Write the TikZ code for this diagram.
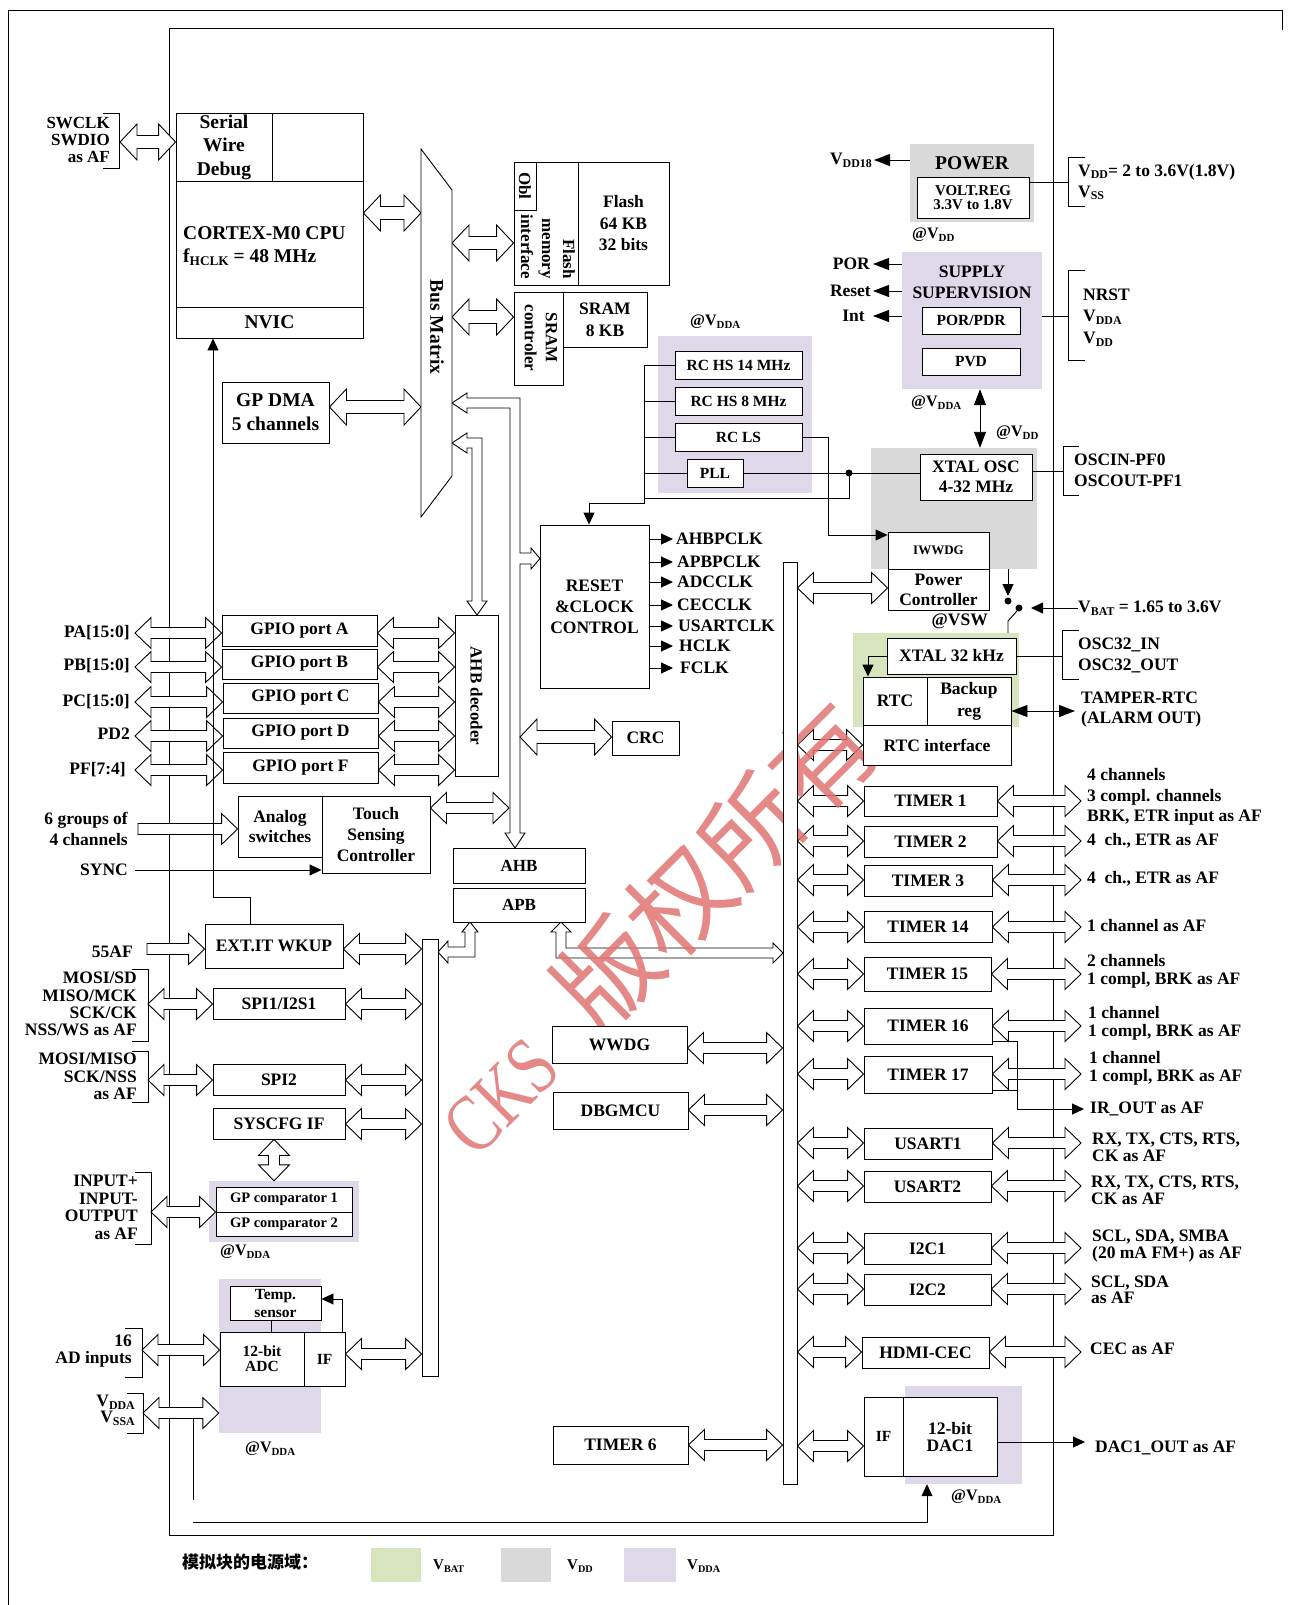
\documentclass[tikz,border=0pt]{standalone}
\usepackage{fontspec}
\usepackage{graphicx}
\setmainfont{Liberation Serif}
\newfontfamily\cjkfont{Noto Sans CJK SC}
\usetikzlibrary{arrows.meta,calc}
\pgfdeclarelayer{back}\pgfdeclarelayer{bg}\pgfdeclarelayer{wm}
\pgfsetlayers{back,bg,wm,main}
\definecolor{vdd}{RGB}{217,217,217}
\definecolor{vdda}{RGB}{222,216,232}
\definecolor{vbat}{RGB}{216,228,190}
\definecolor{wmred}{RGB}{225,115,115}
\newcommand\FS[2]{\fontsize{#1}{#2}\selectfont\bfseries}
\newcommand\sbs[1]{\raisebox{-0.35ex}{\scalebox{0.68}{#1}}}
\def\ahl{16}\def\ahh{15.5}\def\ahs{5.5}
% horizontal double-headed block arrow: x from #2 and #3, y (image px) #4
\newcommand\HArr[4][]{\begin{pgfonlayer}{bg}\filldraw[barrow,#1] let \p1=(#2),\p2=(#3) in
 (\x1,-#4pt) -- (\x1+\ahl pt,-#4pt+\ahh pt) -- (\x1+\ahl pt,-#4pt+\ahs pt) -- (\x2-\ahl pt,-#4pt+\ahs pt) -- (\x2-\ahl pt,-#4pt+\ahh pt) -- (\x2,-#4pt) -- (\x2-\ahl pt,-#4pt-\ahh pt) -- (\x2-\ahl pt,-#4pt-\ahs pt) -- (\x1+\ahl pt,-#4pt-\ahs pt) -- (\x1+\ahl pt,-#4pt-\ahh pt) -- cycle;\end{pgfonlayer}}
% single-headed (head at #3)
\newcommand\RArr[4][]{\begin{pgfonlayer}{bg}\filldraw[barrow,#1] let \p1=(#2),\p2=(#3) in
 (\x1,-#4pt+\ahs pt) -- (\x2-\ahl pt,-#4pt+\ahs pt) -- (\x2-\ahl pt,-#4pt+\ahh pt) -- (\x2,-#4pt) -- (\x2-\ahl pt,-#4pt-\ahh pt) -- (\x2-\ahl pt,-#4pt-\ahs pt) -- (\x1,-#4pt-\ahs pt) -- cycle;\end{pgfonlayer}}
% vertical double-headed block arrow, x (px) #4
\newcommand\VArr[4][]{\begin{pgfonlayer}{bg}\filldraw[barrow,#1] let \p1=(#2),\p2=(#3) in
 (#4pt,\y1) -- (#4pt+\ahh pt,\y1-\ahl pt) -- (#4pt+\ahs pt,\y1-\ahl pt) -- (#4pt+\ahs pt,\y2+\ahl pt) -- (#4pt+\ahh pt,\y2+\ahl pt) -- (#4pt,\y2) -- (#4pt-\ahh pt,\y2+\ahl pt) -- (#4pt-\ahs pt,\y2+\ahl pt) -- (#4pt-\ahs pt,\y1-\ahl pt) -- (#4pt-\ahh pt,\y1-\ahl pt) -- cycle;\end{pgfonlayer}}
\newcommand\bx[7][]{\node[box,minimum width={#5-#3},minimum height={#6-#4},#1] (#2) at ({(#3+#5)/2},{(#4+#6)/2}) {#7};}
\newcommand\rg[6]{\begin{pgfonlayer}{back}\node[fill=#1,draw=none,inner sep=0pt,minimum width={#5-#3},minimum height={#6-#4}] (#2) at ({(#3+#5)/2},{(#4+#6)/2}) {};\end{pgfonlayer}}
\tikzset{
 box/.style={draw,line width=0.9pt,fill=white,inner sep=1pt,align=center,font=\FS{17.5}{21}},
 barrow/.style={fill=white,draw=black,line width=0.9pt,line join=miter},
 bigarrow/.code={\def\ahl{17}\def\ahh{18}\def\ahs{6.5}},
 lbl/.style={inner sep=0pt,align=center,font=\FS{17.5}{21}},
 ln/.style={line width=0.9pt},
 arr/.style={line width=0.9pt,-{Triangle[length=12pt,width=11pt]}},
 arrL/.style={line width=0.9pt,-{Triangle[length=16pt,width=12pt]}},
 dbl/.style={line width=0.9pt,{Triangle[length=16pt,width=12pt]}-{Triangle[length=16pt,width=12pt]}},
}
\begin{document}
\begin{tikzpicture}[x=1pt,y=-1pt]
\useasboundingbox (0,0) rectangle (1290,1605);
% frames
\begin{pgfonlayer}{bg}
\draw[ln] (8,1605) -- (8,10) -- (1282,10) -- (1282,30);
\draw[ln] (169,28) rectangle (1053,1535);
\end{pgfonlayer}
% supply domain backgrounds
\rg{vdd}{pwrbg}{910}{144}{1034}{222}
\rg{vdda}{supbg}{902}{252}{1042}{389}
\rg{vdd}{xtbg}{871}{448}{1037}{569}
\rg{vbat}{rtcbg}{853}{633}{1019}{727}
\rg{vdda}{rcbg}{658}{336}{812}{493}
\rg{vdda}{cmpbg}{209}{1181}{359}{1242}
\rg{vdda}{adcbg}{219}{1279}{321}{1433}
\rg{vdda}{dacbg}{905}{1386}{1022}{1484}

% ---------- CPU ----------
\bx[font=\FS{19.5}{23.5}]{swd}{176}{113}{272}{181}{Serial\\Wire\\Debug}
\bx{swdr}{272}{113}{363}{181}{}
\bx{cpu}{176}{181}{363}{307}{}
\node[lbl,anchor=west,align=left,font=\FS{19.5}{23}] (cputxt) at (183,246) {CORTEX-M0 CPU\\f\sbs{HCLK} = 48 MHz};
\bx[font=\FS{19.5}{23}]{nvic}{176}{307}{363}{338}{NVIC}
\node[lbl,anchor=east,align=right,font=\FS{17}{17}] (swlab) at (110,140) {SWCLK\\SWDIO\\as AF};
\begin{pgfonlayer}{bg}
\draw[ln] (103,113) -- (119,113) -- (119,168) -- (103,168);
\end{pgfonlayer}
\coordinate (swbr) at (120,142);
\HArr[bigarrow]{swbr}{swd.west}{142}

% ---------- Bus matrix ----------
\draw[ln,fill=white] (421,149) -- (452,190) -- (452,476) -- (421,517) -- cycle;
\coordinate (bmL) at (421,300);
\coordinate (bmR) at (452,300);
\node[lbl,rotate=-90,font=\FS{19.5}{20}] (bmtxt) at (437,327) {Bus Matrix};
\HArr[bigarrow]{cpu.east}{bmL}{213}
\bx[font=\FS{19.5}{24}]{dma}{222}{382}{329}{443}{GP DMA\\5 channels}
\HArr[bigarrow]{dma.east}{bmL}{407}

% ---------- Flash / SRAM ----------
\bx{flif}{514}{162}{578}{285}{}
\bx{obl}{514}{162}{536}{210}{}
\node[lbl,rotate=-90,font=\FS{17}{20}] at (525,186) {Obl};
\node[lbl,rotate=-90,anchor=east,align=right,font=\FS{17}{21}] at (548,279) {Flash\\memory\\interface};
\bx[font=\FS{17.5}{21.5}]{flash}{578}{162}{669}{285}{Flash\\64 KB\\32 bits}
\bx{sramc}{514}{292}{563}{385}{}
\node[lbl,rotate=-90,font=\FS{17}{21}] at (541,338) {SRAM\\controler};
\bx[font=\FS{17.5}{22}]{sram}{563}{292}{647}{347}{SRAM\\8 KB}
\HArr[bigarrow]{bmR}{flif.west}{243}
\HArr[bigarrow]{bmR}{sramc.west}{317}

% ---------- L-shaped bus arrows ----------
\begin{pgfonlayer}{bg}
\filldraw[barrow] (452,403) -- (467,393) -- (467,398) -- (520,398) -- (520,553) -- (531,553) -- (531,548) -- (540,558.5) -- (531,569) -- (531,564) -- (520,564) -- (520,833) -- (525,833) -- (515,848) -- (505,833) -- (510,833) -- (510,408) -- (467,408) -- (467,413) -- cycle;
\filldraw[barrow] (452,443) -- (467,433) -- (467,438) -- (482,438) -- (482,601) -- (487,601) -- (477,615) -- (467,601) -- (472,601) -- (472,448) -- (467,448) -- (467,453) -- cycle;
\end{pgfonlayer}

% ---------- RC oscillators ----------
\node[lbl,anchor=west,font=\FS{16}{16}] at (690,322) {@V\sbs{DDA}};
\bx[font=\FS{15.5}{18}]{rc14}{675}{351}{802}{379}{RC HS 14 MHz}
\bx[font=\FS{15.5}{18}]{rc8}{675}{387}{802}{415}{RC HS 8 MHz}
\bx[font=\FS{15.5}{18}]{rcls}{675}{423}{802}{451}{RC LS}
\bx[font=\FS{15.5}{18}]{pll}{687}{459}{743}{487}{PLL}
\coordinate (rcb) at (644,365);

% ---------- RCC ----------
\bx{rcc}{540}{525}{649}{688}{RESET\\\&CLOCK\\CONTROL}
\node[lbl,anchor=west] (c1) at (676,539) {AHBPCLK};
\node[lbl,anchor=west] (c2) at (677,562) {APBPCLK};
\node[lbl,anchor=west] (c3) at (677,582) {ADCCLK};
\node[lbl,anchor=west] (c4) at (677,605) {CECCLK};
\node[lbl,anchor=west] (c5) at (678,626) {USARTCLK};
\node[lbl,anchor=west] (c6) at (679,646) {HCLK};
\node[lbl,anchor=west] (c7) at (680,668) {FCLK};

% ---------- POWER ----------
\node[lbl,font=\FS{19.5}{20}] (pwrtxt) at (972,163) {POWER};
\bx[font=\FS{15}{14}]{vreg}{917}{177}{1029}{218}{VOLT.REG\\3.3V to 1.8V}
\node[lbl,anchor=east] (vdd18) at (872,160) {V\sbs{DD18}};
\node[lbl,anchor=west,font=\FS{16}{16}] at (912,235) {@V\sbs{DD}};
\node[lbl,anchor=west,align=left] at (1078,182) {V\sbs{DD}= 2 to 3.6V(1.8V)\\V\sbs{SS}};

% ---------- Supply supervision ----------
\node[lbl] (suptxt) at (972,282.5) {SUPPLY\\SUPERVISION};
\bx[font=\FS{15.5}{18}]{porpdr}{922}{307}{1020}{334}{POR/PDR}
\bx[font=\FS{15.5}{18}]{pvd}{922}{348}{1020}{375}{PVD}
\node[lbl,anchor=east] (por) at (870,264) {POR};
\node[lbl,anchor=east] (rst) at (871,291) {Reset};
\node[lbl,anchor=east] (int) at (865,316) {Int};
\node[lbl,anchor=west,align=left,font=\FS{17.5}{21.5}] at (1083,317.5) {NRST\\V\sbs{DDA}\\V\sbs{DD}};
\node[lbl,anchor=west,font=\FS{16}{16}] at (911,403) {@V\sbs{DDA}};
\node[lbl,anchor=west,font=\FS{16}{16}] at (996,433) {@V\sbs{DD}};

% ---------- XTAL OSC ----------
\bx[font=\FS{17.5}{20}]{xtal}{920}{454}{1032}{500}{XTAL OSC\\4-32 MHz}
\node[lbl,anchor=west,align=left] at (1074,470.5) {OSCIN-PF0\\OSCOUT-PF1};

% ---------- IWWDG / power controller ----------
\bx[font=\FS{13}{14}]{iwwdg}{888}{532}{989}{569}{IWWDG}
\bx[font=\FS{17.5}{20}]{pwc}{888}{569}{989}{610}{Power\\Controller}
\node[lbl,anchor=east] (vswtxt) at (988,621) {@VSW};
\node[lbl,anchor=west] (vbat) at (1078,608) {V\sbs{BAT} = 1.65 to 3.6V};

% ---------- RTC ----------
\bx{xt32}{887}{638}{1016}{674}{XTAL 32 kHz}
\bx{rtc}{863}{677}{927}{725}{RTC}
\bx[font=\FS{17.5}{22}]{bkp}{927}{677}{1011}{725}{Backup\\reg}
\bx{rtcif}{863}{725}{1011}{765}{RTC interface}
\node[lbl,anchor=west,align=left] at (1078,655.5) {OSC32\_IN\\OSC32\_OUT};
\node[lbl,anchor=west,align=left,font=\FS{17.5}{20}] (tamper) at (1081,710) {TAMPER-RTC\\(ALARM OUT)};

% ---------- buses ----------
\bx{vsw}{783}{562}{797}{1484}{}
\bx{apbbar}{422}{939}{438}{1376}{}
\bx[font=\FS{17}{20}]{ahb}{453}{848}{585}{883}{AHB}
\bx[font=\FS{17}{20}]{apb}{453}{888}{585}{922}{APB}
\HArr{vsw.east}{pwc.west}{588}
\HArr{vsw.east}{rtcif.west}{745}

% ---------- CRC ----------
\bx{crc}{612}{721}{679}{755}{CRC}
\coordinate (ahbch) at (520,737);
\HArr[bigarrow]{ahbch}{crc.west}{737}

% ---------- GPIO ----------
\bx[font=\FS{17}{20}]{ahbdec}{455}{615}{498}{776}{}
\node[lbl,rotate=-90,font=\FS{17}{20}] at (476.5,696) {AHB decoder};
\bx{gpioA}{222}{615}{377}{646}{GPIO port A}
\bx{gpioB}{222}{649}{377}{679}{GPIO port B}
\bx{gpioC}{223}{683}{378}{713}{GPIO port C}
\bx{gpioD}{223}{718}{378}{748}{GPIO port D}
\bx{gpioF}{223}{752}{378}{783}{GPIO port F}
\node[lbl,anchor=east] (pa) at (130,633) {PA[15:0]};
\node[lbl,anchor=east] (pb) at (130,666) {PB[15:0]};
\node[lbl,anchor=east] (pc) at (130,702) {PC[15:0]};
\node[lbl,anchor=east] (pd) at (130,734) {PD2};
\node[lbl,anchor=east] (pf) at (126,770) {PF[7:4]};
\coordinate (portL) at (135,700);
\HArr{portL}{gpioA.west}{633}
\HArr{portL}{gpioB.west}{667}
\HArr{portL}{gpioC.west}{702}
\HArr{portL}{gpioD.west}{736}
\HArr{portL}{gpioF.west}{770}
\HArr{gpioA.east}{ahbdec.west}{633}
\HArr{gpioB.east}{ahbdec.west}{667}
\HArr{gpioC.east}{ahbdec.west}{702}
\HArr{gpioD.east}{ahbdec.west}{736}
\HArr{gpioF.east}{ahbdec.west}{770}

% ---------- Touch sensing ----------
\bx[font=\FS{17.5}{20}]{analog}{238}{796}{322}{857}{Analog\\switches}
\bx{touch}{322}{796}{430}{873}{Touch\\Sensing\\Controller}
\node[lbl,anchor=east,align=right] (grp) at (128,829) {6 groups of\\4 channels};
\coordinate (grpL) at (138,829);
\RArr{grpL}{analog.west}{829}
\node[lbl,anchor=east] (sync) at (128,870) {SYNC};
\coordinate (tchR) at (509,808);
\HArr{touch.east}{tchR}{808}

% ---------- EXT.IT and SPI ----------
\bx{extit}{205}{924}{343}{968}{EXT.IT WKUP}
\node[lbl,anchor=east] (af55) at (133,952) {55AF};
\coordinate (af55L) at (147,949);
\RArr{af55L}{extit.west}{949}
\HArr{extit.east}{apbbar.west}{949}
\bx{spi1}{213}{988}{345}{1019}{SPI1/I2S1}
\node[lbl,anchor=east,align=right,font=\FS{17.5}{17.3}] at (137,1004) {MOSI/SD\\MISO/MCK\\SCK/CK\\NSS/WS as AF};
\coordinate (spi1L) at (148,1004);
\HArr{spi1L}{spi1.west}{1004}
\HArr{spi1.east}{apbbar.west}{1004}
\bx{spi2}{213}{1064}{345}{1095}{SPI2}
\node[lbl,anchor=east,align=right,font=\FS{17.5}{17.5}] at (137,1076.5) {MOSI/MISO\\SCK/NSS\\as AF};
\coordinate (spi2L) at (148,1080);
\HArr{spi2L}{spi2.west}{1080}
\HArr{spi2.east}{apbbar.west}{1080}
\bx{syscfg}{213}{1108}{345}{1139}{SYSCFG IF}
\HArr{syscfg.east}{apbbar.west}{1124}
\VArr{syscfg.south}{cmpbg.north}{274}

% ---------- comparators ----------
\bx[font=\FS{14.5}{16}]{cmp1}{216}{1187}{352}{1212}{GP comparator 1}
\bx[font=\FS{14.5}{16}]{cmp2}{216}{1212}{352}{1236}{GP comparator 2}
\node[lbl,anchor=west,font=\FS{16}{16}] at (220,1252) {@V\sbs{DDA}};
\node[lbl,anchor=east,align=right,font=\FS{17.5}{17.6}] at (138,1207.5) {INPUT+\\INPUT-\\OUTPUT\\as AF};
\coordinate (cmpL) at (151,1212);
\HArr{cmpL}{cmp1.west}{1212}

% ---------- ADC ----------
\bx[font=\FS{15.5}{18}]{temp}{230}{1286}{321}{1320}{Temp.\\sensor}
\bx[font=\FS{15.5}{15}]{adc}{220}{1332}{304}{1386}{12-bit\\ADC}
\bx[font=\FS{15.5}{15}]{adcif}{304}{1332}{345}{1386}{IF}
\node[lbl,anchor=east,align=right,font=\FS{17.5}{17}] at (132,1351.5) {16\\AD inputs};
\coordinate (adcL) at (142,1350);
\HArr{adcL}{adc.west}{1350}
\HArr{adcif.east}{apbbar.west}{1354}
\node[lbl,anchor=east,align=right,font=\FS{17.5}{16}] at (135,1410) {V\sbs{DDA}\\V\sbs{SSA}};
\coordinate (vdaL) at (143,1413);
\HArr{vdaL}{adcbg.west}{1413}
\node[lbl,anchor=west,font=\FS{16}{16}] at (245,1449) {@V\sbs{DDA}};
\coordinate (vdaS) at (193,1418.5);

% ---------- APB peripherals (left of VSW bus) ----------
\bx{wwdg}{552}{1026}{687}{1063}{WWDG}
\bx{dbg}{553}{1092}{688}{1129}{DBGMCU}
\bx{tim6}{553}{1426}{688}{1464}{TIMER 6}
\HArr{wwdg.east}{vsw.west}{1048}
\HArr{dbg.east}{vsw.west}{1110}
\HArr{tim6.east}{vsw.west}{1445}

% ---------- right peripherals ----------
\coordinate (rt) at (1081,0);
\bx{t1}{864}{786}{997}{816}{TIMER 1}
\bx{t2}{864}{826}{997}{857}{TIMER 2}
\bx{t3}{864}{865}{992}{896}{TIMER 3}
\bx{t14}{864}{911}{992}{942}{TIMER 14}
\bx{t15}{864}{957}{991}{991}{TIMER 15}
\bx{t16}{864}{1008}{992}{1044}{TIMER 16}
\bx{t17}{864}{1056}{992}{1093}{TIMER 17}
\bx{us1}{864}{1128}{992}{1159}{USART1}
\bx{us2}{864}{1171}{991}{1202}{USART2}
\bx{i2c1}{864}{1233}{991}{1264}{I2C1}
\bx{i2c2}{864}{1274}{991}{1305}{I2C2}
\bx{cec}{862}{1337}{989}{1368}{HDMI-CEC}
\bx[font=\FS{15.5}{17}]{dacif}{864}{1397}{903}{1476}{IF}
\bx[font=\FS{17.5}{17}]{dac}{903}{1397}{997}{1476}{12-bit\\DAC1}
\foreach \nm/\yy in {t1/801,t2/841,t3/880,t14/927,t15/974,t16/1026,t17/1074,us1/1143,us2/1186,i2c1/1248,i2c2/1289,cec/1352}{
  \HArr{vsw.east}{\nm.west}{\yy}
  \HArr{\nm.east}{rt}{\yy}
}
\HArr{vsw.east}{dacif.west}{1446}
\node[lbl,anchor=west,align=left,font=\FS{17.5}{20.5}] at (1087,797) {4 channels\\3 compl. channels\\BRK, ETR input as AF};
\node[lbl,anchor=west] at (1087,841) {4~~ch., ETR as AF};
\node[lbl,anchor=west] at (1087,879) {4~~ch., ETR as AF};
\node[lbl,anchor=west] at (1087,926) {1 channel as AF};
\node[lbl,anchor=west,align=left,font=\FS{17.5}{18}] at (1087,971) {2 channels\\1 compl, BRK as AF};
\node[lbl,anchor=west,align=left,font=\FS{17.5}{18}] at (1088,1023) {1 channel\\1 compl, BRK as AF};
\node[lbl,anchor=west,align=left,font=\FS{17.5}{18}] at (1089,1068) {1 channel\\1 compl, BRK as AF};
\node[lbl,anchor=west] (irout) at (1090,1109) {IR\_OUT as AF};
\node[lbl,anchor=west,align=left,font=\FS{17.5}{17}] at (1092,1147) {RX, TX, CTS, RTS,\\CK as AF};
\node[lbl,anchor=west,align=left,font=\FS{17.5}{17}] at (1091,1190) {RX, TX, CTS, RTS,\\CK as AF};
\node[lbl,anchor=west,align=left,font=\FS{17.5}{17}] at (1092,1246) {SCL, SDA, SMBA\\(20 mA FM+) as AF};
\node[lbl,anchor=west,align=left,font=\FS{17.5}{16.5}] at (1091,1290) {SCL, SDA\\as AF};
\node[lbl,anchor=west] at (1090,1349) {CEC as AF};
\node[lbl,anchor=west] (dacout) at (1095,1448) {DAC1\_OUT as AF};
\coordinate (dactip) at (1085,1442);
\node[lbl,anchor=west,font=\FS{16}{16}] at (951,1497) {@V\sbs{DDA}};

% ---------- thin connectors ----------
\begin{pgfonlayer}{bg}
\draw[ln] (rc14.west) -- (rcb);
\draw[ln] (rc8.west) -- (rc8.west -| rcb);
\draw[ln] (rcls.west) -- (rcls.west -| rcb);
\draw[ln] (pll.west) -- (pll.west -| rcb);
\draw[arr] (rcb) -- (644,503) -- (589,503) -- (rcc.north -| 589,0);
\foreach \cc in {c1,c2,c3,c4,c5,c6,c7}{\draw[arr] (rcc.east |- \cc.west) -- (673,0 |- \cc.west);}
\draw[arrL] (pwrbg.west |- vdd18.east) -- ([xshift=2pt]vdd18.east);
\draw[ln] (vreg.east |- 0,182) -- (1068,182);
\draw[ln] (1085,157) -- (1068,157) -- (1068,206) -- (1085,206);
\draw[arrL] (supbg.west |- por.east) -- ([xshift=3pt]por.east);
\draw[arrL] (supbg.west |- rst.east) -- ([xshift=2pt]rst.east);
\draw[arrL] (supbg.west |- int.east) -- ([xshift=8pt]int.east);
\draw[ln] (supbg.east |- 0,316) -- (1068,316);
\draw[ln] (1085,270) -- (1068,270) -- (1068,360) -- (1085,360);
\draw[dbl] (supbg.south -| 980,0) -- (xtbg.north -| 980,0);
\draw[ln] (pll.east) -- (pll.east -| xtal.west);
\coordinate (dot1) at (849,473);
\fill (dot1) circle (3.5pt);
\draw[ln] (dot1) -- (849,498) -- (rcb |- 0,498);
\draw[ln] (xtal.east |- 0,471) -- (1063,471);
\draw[ln] (1079,446) -- (1063,446) -- (1063,495) -- (1079,495);
\draw[arr] (rcls.east) -- (rcls.east -| 828,0) -- (828,535) -- (iwwdg.west |- 828,535);
\draw[arr] (xtbg.south -| 1008,0) -- (1008,596);
\fill (1008,601) circle (3.5pt);
\fill (1019,608) circle (3.5pt);
\draw[ln] (1017,611) -- (1008,621) -- (rtcbg.north -| 1008,0);
\draw[arr] (vbat.west) -- ([xshift=-47pt]vbat.west);
\draw[arr] (xt32.west) -- (xt32.west -| 868,0) -- (rtc.north -| 868,0);
\draw[ln] (xt32.east) -- (xt32.east -| 1062,0);
\draw[ln] (1079,630) -- (1062,630) -- (1062,679) -- (1079,679);
\draw[dbl] (bkp.east |- 0,711) -- (1075,711);
\filldraw[barrow] (470,922) -- (478,932) -- (475,932) -- (475,957) -- (448,957) -- (448,963) -- (438,952) -- (448,941) -- (448,947) -- (465,947) -- (465,932) -- (462,932) -- cycle;
\filldraw[barrow] (561,922) -- (571,932) -- (566,932) -- (566,948) -- (773,948) -- (773,943) -- (783,953) -- (773,963) -- (773,958) -- (556,958) -- (556,932) -- (551,932) -- cycle;
\draw[arr] ([xshift=7pt]sync.east) -- (touch.west |- sync.east);
\draw[arr] (extit.north -| 250,0) -- (250,897) -- (213,897) -- (nvic.south -| 213,0);
\draw[ln] (132,969) -- (148,969) -- (148,1041) -- (132,1041);
\draw[ln] (132,1051) -- (148,1051) -- (148,1102) -- (132,1102);
\draw[ln] (135,1172) -- (151,1172) -- (151,1244) -- (135,1244);
\draw[ln] (temp.south -| 271,0) -- (adc.north -| 271,0);
\draw[arr] (adcif.north -| 342,0) -- (342,1299) -- (temp.east |- 342,1299);
\draw[ln] (125,1328) -- (142,1328) -- (142,1377) -- (125,1377);
\draw[ln] (127,1393) -- (143,1393) -- (143,1433) -- (127,1433);
\draw[ln] (vdaS) -- (193,1500);
\draw[ln] ([yshift=3pt]t16.south east) -- ++(25,0) coordinate (irj);
\draw[ln] ([yshift=3pt]t17.south east) -- ([yshift=3pt]t17.south east -| irj);
\draw[arr] (irj) -- (irj |- irout.west) -- ([xshift=-6pt]irout.west);
\draw[arr] (dac.east |- dactip) -- (dactip);
\draw[arr] (193,1522) -- (927,1522) -- (dacbg.south -| 927,0);
\end{pgfonlayer}

% ---------- legend ----------
\node[lbl,anchor=west,font=\cjkfont\bfseries\fontsize{17}{17}\selectfont] (lgt) at (182,1562) {模拟块的电源域：};
\rg{vbat}{lgA}{371}{1548}{421}{1582}
\rg{vdd}{lgB}{501}{1548}{551}{1582}
\rg{vdda}{lgC}{624}{1548}{676}{1582}
\node[lbl,anchor=west,font=\FS{15}{15}] at (433,1566) {V\sbs{BAT}};
\node[lbl,anchor=west,font=\FS{15}{15}] at (567,1566) {V\sbs{DD}};
\node[lbl,anchor=west,font=\FS{15}{15}] at (687,1566) {V\sbs{DDA}};

% ---------- watermark (above connectors, below boxes) ----------
\begin{pgfonlayer}{wm}
\node[rotate=45,text=wmred,opacity=0.85,inner sep=0pt,anchor=base west] (wm) at (476,1160) {{\fontsize{82}{82}\selectfont\scalebox{0.78}[1]{CKS}}\hspace{48pt}{\cjkfont\fontsize{102}{102}\selectfont 版权所有}};
\end{pgfonlayer}
\end{tikzpicture}
\end{document}
